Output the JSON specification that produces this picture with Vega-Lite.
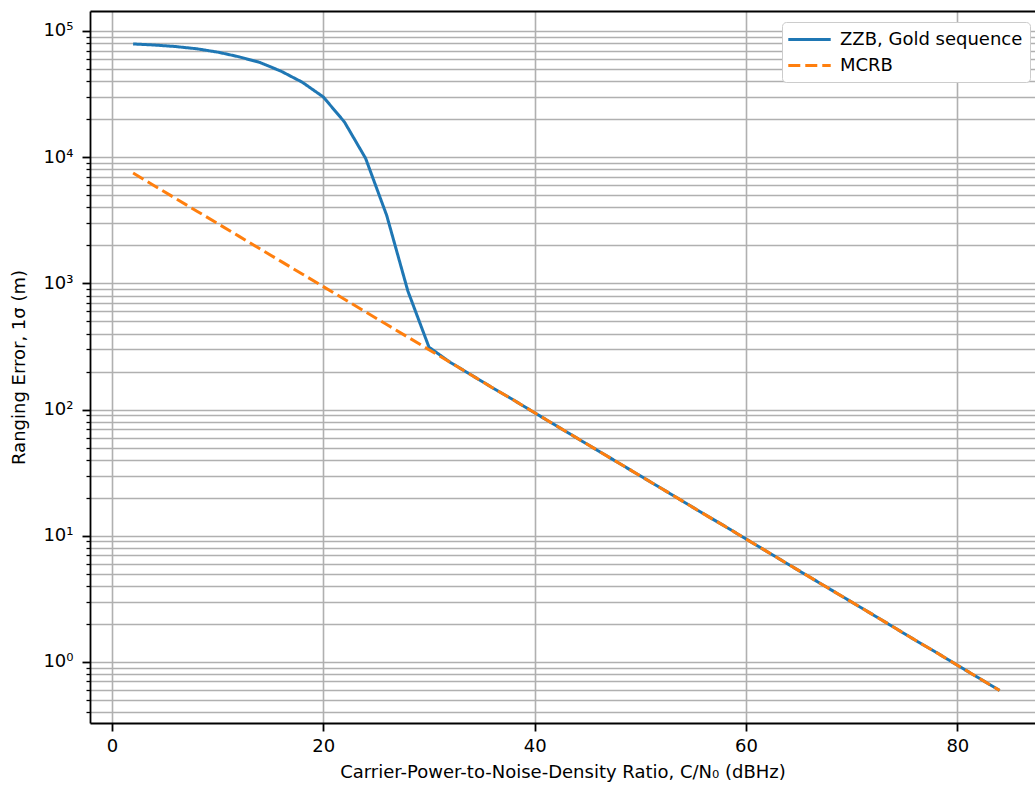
{
  "$schema": "https://vega.github.io/schema/vega-lite/v6.json",
  "width": 945,
  "height": 712,
  "autosize": {"type": "none"},
  "padding": {"left": 90, "top": 11, "right": 0, "bottom": 67},
  "background": "white",
  "config": {
    "font": "DejaVu Sans",
    "view": {"stroke": null},
    "axis": {
      "labelFont": "DejaVu Sans",
      "titleFont": "DejaVu Sans",
      "labelFontSize": 18,
      "titleFontSize": 18,
      "titleFontWeight": "normal",
      "labelColor": "#000",
      "titleColor": "#000",
      "domainColor": "#000",
      "domainWidth": 1.8,
      "tickColor": "#000",
      "gridColor": "#b0b0b0",
      "gridWidth": 1.6,
      "labelOverlap": false,
      "labelFlush": false
    },
    "legend": {
      "labelFont": "DejaVu Sans",
      "labelFontSize": 18,
      "labelColor": "#000"
    }
  },
  "datasets": {
    "curves": [
      {"series": "ZZB, Gold sequence", "cn0": 2, "err": 78900},
      {"series": "ZZB, Gold sequence", "cn0": 4, "err": 77400},
      {"series": "ZZB, Gold sequence", "cn0": 6, "err": 75300},
      {"series": "ZZB, Gold sequence", "cn0": 8, "err": 72300},
      {"series": "ZZB, Gold sequence", "cn0": 10, "err": 68000},
      {"series": "ZZB, Gold sequence", "cn0": 12, "err": 62500},
      {"series": "ZZB, Gold sequence", "cn0": 14, "err": 56300},
      {"series": "ZZB, Gold sequence", "cn0": 16, "err": 48000},
      {"series": "ZZB, Gold sequence", "cn0": 18, "err": 39300},
      {"series": "ZZB, Gold sequence", "cn0": 20, "err": 30000},
      {"series": "ZZB, Gold sequence", "cn0": 22, "err": 19000},
      {"series": "ZZB, Gold sequence", "cn0": 24, "err": 9800},
      {"series": "ZZB, Gold sequence", "cn0": 26, "err": 3450},
      {"series": "ZZB, Gold sequence", "cn0": 28, "err": 870},
      {"series": "ZZB, Gold sequence", "cn0": 30, "err": 312},
      {"series": "ZZB, Gold sequence", "cn0": 32, "err": 237},
      {"series": "ZZB, Gold sequence", "cn0": 34, "err": 188},
      {"series": "ZZB, Gold sequence", "cn0": 36, "err": 149},
      {"series": "ZZB, Gold sequence", "cn0": 38, "err": 119},
      {"series": "ZZB, Gold sequence", "cn0": 40, "err": 94.2},
      {"series": "ZZB, Gold sequence", "cn0": 42, "err": 74.8},
      {"series": "ZZB, Gold sequence", "cn0": 44, "err": 59.4},
      {"series": "ZZB, Gold sequence", "cn0": 46, "err": 47.2},
      {"series": "ZZB, Gold sequence", "cn0": 48, "err": 37.5},
      {"series": "ZZB, Gold sequence", "cn0": 50, "err": 29.8},
      {"series": "ZZB, Gold sequence", "cn0": 52, "err": 23.7},
      {"series": "ZZB, Gold sequence", "cn0": 54, "err": 18.8},
      {"series": "ZZB, Gold sequence", "cn0": 56, "err": 14.9},
      {"series": "ZZB, Gold sequence", "cn0": 58, "err": 11.9},
      {"series": "ZZB, Gold sequence", "cn0": 60, "err": 9.42},
      {"series": "ZZB, Gold sequence", "cn0": 62, "err": 7.48},
      {"series": "ZZB, Gold sequence", "cn0": 64, "err": 5.94},
      {"series": "ZZB, Gold sequence", "cn0": 66, "err": 4.72},
      {"series": "ZZB, Gold sequence", "cn0": 68, "err": 3.75},
      {"series": "ZZB, Gold sequence", "cn0": 70, "err": 2.98},
      {"series": "ZZB, Gold sequence", "cn0": 72, "err": 2.37},
      {"series": "ZZB, Gold sequence", "cn0": 74, "err": 1.88},
      {"series": "ZZB, Gold sequence", "cn0": 76, "err": 1.49},
      {"series": "ZZB, Gold sequence", "cn0": 78, "err": 1.19},
      {"series": "ZZB, Gold sequence", "cn0": 80, "err": 0.942},
      {"series": "ZZB, Gold sequence", "cn0": 82, "err": 0.748},
      {"series": "ZZB, Gold sequence", "cn0": 84, "err": 0.594},
      {"series": "MCRB", "cn0": 2, "err": 7482},
      {"series": "MCRB", "cn0": 4, "err": 5943},
      {"series": "MCRB", "cn0": 6, "err": 4721},
      {"series": "MCRB", "cn0": 8, "err": 3750},
      {"series": "MCRB", "cn0": 10, "err": 2979},
      {"series": "MCRB", "cn0": 12, "err": 2366},
      {"series": "MCRB", "cn0": 14, "err": 1879},
      {"series": "MCRB", "cn0": 16, "err": 1493},
      {"series": "MCRB", "cn0": 18, "err": 1186},
      {"series": "MCRB", "cn0": 20, "err": 942},
      {"series": "MCRB", "cn0": 22, "err": 748},
      {"series": "MCRB", "cn0": 24, "err": 594},
      {"series": "MCRB", "cn0": 26, "err": 472},
      {"series": "MCRB", "cn0": 28, "err": 375},
      {"series": "MCRB", "cn0": 30, "err": 298},
      {"series": "MCRB", "cn0": 32, "err": 237},
      {"series": "MCRB", "cn0": 34, "err": 188},
      {"series": "MCRB", "cn0": 36, "err": 149},
      {"series": "MCRB", "cn0": 38, "err": 119},
      {"series": "MCRB", "cn0": 40, "err": 94.2},
      {"series": "MCRB", "cn0": 42, "err": 74.8},
      {"series": "MCRB", "cn0": 44, "err": 59.4},
      {"series": "MCRB", "cn0": 46, "err": 47.2},
      {"series": "MCRB", "cn0": 48, "err": 37.5},
      {"series": "MCRB", "cn0": 50, "err": 29.8},
      {"series": "MCRB", "cn0": 52, "err": 23.7},
      {"series": "MCRB", "cn0": 54, "err": 18.8},
      {"series": "MCRB", "cn0": 56, "err": 14.9},
      {"series": "MCRB", "cn0": 58, "err": 11.9},
      {"series": "MCRB", "cn0": 60, "err": 9.42},
      {"series": "MCRB", "cn0": 62, "err": 7.48},
      {"series": "MCRB", "cn0": 64, "err": 5.94},
      {"series": "MCRB", "cn0": 66, "err": 4.72},
      {"series": "MCRB", "cn0": 68, "err": 3.75},
      {"series": "MCRB", "cn0": 70, "err": 2.98},
      {"series": "MCRB", "cn0": 72, "err": 2.37},
      {"series": "MCRB", "cn0": 74, "err": 1.88},
      {"series": "MCRB", "cn0": 76, "err": 1.49},
      {"series": "MCRB", "cn0": 78, "err": 1.19},
      {"series": "MCRB", "cn0": 80, "err": 0.942},
      {"series": "MCRB", "cn0": 82, "err": 0.748},
      {"series": "MCRB", "cn0": 84, "err": 0.594}
    ]
  },
  "data": {"name": "curves"},
  "encoding": {
    "y": {
      "field": "err",
      "type": "quantitative",
      "scale": {"type": "log", "domain": [0.328, 144000], "nice": false},
      "axis": {
        "title": "Ranging Error, 1σ (m)",
        "titlePadding": 14,
        "values": [0.4, 0.5, 0.6, 0.7, 0.8, 0.9, 1, 2, 3, 4, 5, 6, 7, 8, 9, 10, 20, 30, 40, 50, 60, 70, 80, 90, 100, 200, 300, 400, 500, 600, 700, 800, 900, 1000, 2000, 3000, 4000, 5000, 6000, 7000, 8000, 9000, 10000, 20000, 30000, 40000, 50000, 60000, 70000, 80000, 90000, 100000],
        "labelExpr": "datum.value == 1 ? '10⁰' : datum.value == 10 ? '10¹' : datum.value == 100 ? '10²' : datum.value == 1000 ? '10³' : datum.value == 10000 ? '10⁴' : datum.value == 100000 ? '10⁵' : ''",
        "tickSize": {"condition": {"test": "indexof([1,10,100,1000,10000,100000], datum.value) >= 0", "value": 8}, "value": 4},
        "tickWidth": {"condition": {"test": "indexof([1,10,100,1000,10000,100000], datum.value) >= 0", "value": 1.8}, "value": 1.3},
        "labelPadding": 9,
        "grid": true
      }
    },
    "color": {
      "field": "series",
      "type": "nominal",
      "scale": {"domain": ["ZZB, Gold sequence", "MCRB"], "range": ["#1f77b4", "#ff7f0e"]},
      "legend": {
        "title": null,
        "orient": "none",
        "legendX": 692,
        "legendY": 11,
        "symbolType": "M-2.45,0L2.45,0",
        "symbolSize": 300,
        "symbolOffset": 10,
        "symbolStrokeWidth": 3,
        "symbolFillColor": "transparent",
        "labelOffset": 20,
        "labelLimit": 400,
        "rowPadding": 6,
        "padding": 7,
        "fillColor": "white",
        "strokeColor": "#cccccc",
        "cornerRadius": 4
      }
    },
    "strokeDash": {
      "field": "series",
      "type": "nominal",
      "scale": {"domain": ["ZZB, Gold sequence", "MCRB"], "range": [[1, 0], [12, 5]]},
      "legend": null
    }
  },
  "layer": [
    {
      "transform": [{"filter": "datum.series == 'ZZB, Gold sequence'"}],
      "mark": {"type": "line", "strokeWidth": 3},
      "encoding": {
        "x": {
          "field": "cn0",
          "type": "quantitative",
          "scale": {"domain": [-2.08, 87.35], "nice": false, "zero": false},
          "axis": {
            "title": "Carrier-Power-to-Noise-Density Ratio, C/N₀ (dBHz)",
            "values": [0, 20, 40, 60, 80],
            "tickSize": 8,
            "tickWidth": 1.8,
            "labelPadding": 6,
            "titlePadding": 8,
            "grid": true
          }
        }
      }
    },
    {
      "transform": [{"filter": "datum.series == 'MCRB'"}],
      "mark": {"type": "line", "strokeWidth": 3},
      "encoding": {
        "x": {
          "field": "cn0",
          "type": "quantitative",
          "axis": {
            "orient": "top",
            "title": null,
            "labels": false,
            "ticks": false,
            "grid": false,
            "domain": true
          }
        }
      }
    }
  ],
  "resolve": {"axis": {"x": "independent"}}
}
